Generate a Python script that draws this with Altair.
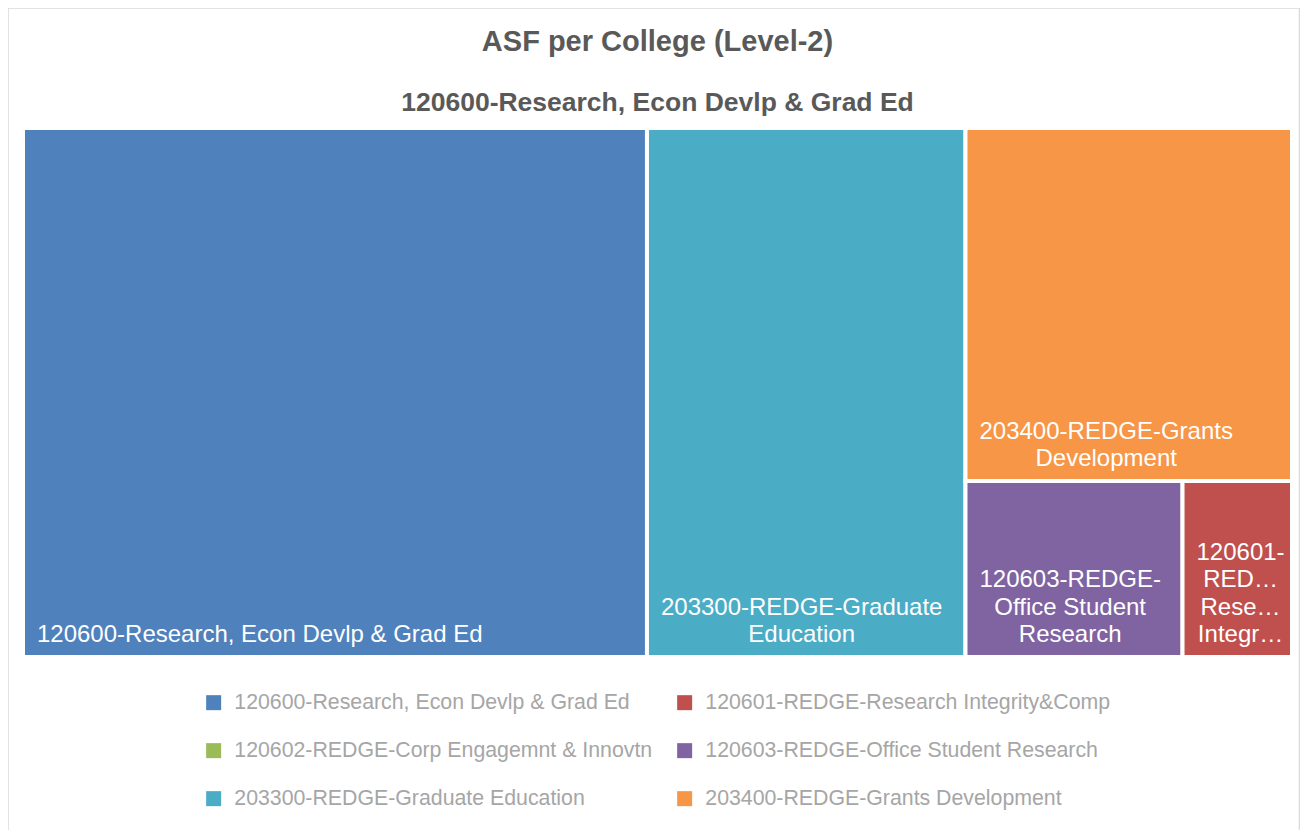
import altair as alt
import pandas as pd

# ---------------- data ----------------
names = [
    "120600-Research, Econ Devlp & Grad Ed",
    "120601-REDGE-Research Integrity&Comp",
    "120602-REDGE-Corp Engagemnt & Innovtn",
    "120603-REDGE-Office Student Research",
    "203300-REDGE-Graduate Education",
    "203400-REDGE-Grants Development",
]
asf = [49170, 2870, 0, 5690, 25100, 17170]
colors = ["#4F81BD", "#C0504D", "#9BBB59", "#8064A2", "#4BACC6", "#F79646"]
tile_lines = {
    names[0]: ["120600-Research, Econ Devlp & Grad Ed"],
    names[1]: ["120601-", "RED…", "Rese…", "Integr…"],
    names[2]: ["120602-REDGE-Corp Engagemnt & Innovtn"],
    names[3]: ["120603-REDGE-", "Office Student", "Research"],
    names[4]: ["203300-REDGE-Graduate", "Education"],
    names[5]: ["203400-REDGE-Grants", "Development"],
}
title_text = "ASF per College (Level-2)"
subtitle_text = "120600-Research, Econ Devlp & Grad Ed"

# ---------------- layout constants ----------------
W, H = 1292, 822
REGION = (15, 120, 1269, 529)  # x, y, width, height of treemap area
FS = 24
LINE_H = 27.5


def squarify(items, x, y, dx, dy):
    total = sum(v for _, v in items)
    areas = [(k, v * dx * dy / total) for k, v in items]
    rects = []

    def worst(row, w):
        s = sum(a for _, a in row)
        return max(max(w * w * a / (s * s), (s * s) / (w * w * a)) for _, a in row)

    while areas:
        w = min(dx, dy)
        row = [areas.pop(0)]
        while areas and worst(row + [areas[0]], w) <= worst(row, w):
            row.append(areas.pop(0))
        s = sum(a for _, a in row)
        if dx >= dy:
            cw = s / dy
            cy = y
            for k, a in row:
                h = a / cw
                rects.append((k, x, cy, x + cw, cy + h))
                cy += h
            x += cw
            dx -= cw
        else:
            rh = s / dx
            cx = x
            for k, a in row:
                wd = a / rh
                rects.append((k, cx, y, cx + wd, y + rh))
                cx += wd
            y += rh
            dy -= rh
    return rects


items = sorted([(n, v) for n, v in zip(names, asf) if v > 0], key=lambda t: -t[1])
rects = squarify(items, *REGION)
tiles = pd.DataFrame(rects, columns=["name", "x0", "y0", "x1", "y1"])

# approximate Arial/Liberation Sans advance widths (em/1000)
CW = {c: 556 for c in "0123456789"}
CW.update({"-": 333, " ": 278, ",": 278, "&": 667, "…": 1000,
           "A": 667, "B": 667, "C": 722, "D": 722, "E": 667, "F": 611, "G": 778,
           "I": 278, "L": 556, "O": 778, "R": 722, "S": 667,
           "a": 556, "c": 500, "d": 556, "e": 556, "f": 278, "g": 556, "h": 556,
           "i": 222, "l": 222, "m": 833, "n": 556, "o": 556, "p": 556, "r": 333,
           "s": 500, "t": 278, "u": 556, "v": 500})


def tw(s, fs):
    return sum(CW.get(c, 556) for c in s) / 1000 * fs


label_rows = []
for name, x0, y0, x1, y1 in rects:
    lines = tile_lines[name]
    bw = max(tw(l, FS) for l in lines)
    cx = x0 + 14 + bw / 2
    n = len(lines)
    for i, l in enumerate(lines):
        label_rows.append({"x": cx, "y": y1 - 15 - (n - 1 - i) * LINE_H, "text": l})
labels = pd.DataFrame(label_rows)

# legend is filled column by column: order entries so rows read like the original
legend_order = [0, 2, 4, 1, 3, 5]
legend_names = [names[i] for i in legend_order]
legend_colors = [colors[i] for i in legend_order]

xs = alt.Scale(domain=[0, W], range=[0, W])
ys = alt.Scale(domain=[0, H], range=[0, H])

rect_layer = alt.Chart(tiles).mark_rect(stroke="white", strokeWidth=4).encode(
    x=alt.X("x0:Q", scale=xs, axis=None),
    x2="x1:Q",
    y=alt.Y("y0:Q", scale=ys, axis=None),
    y2="y1:Q",
    color=alt.Color(
        "name:N",
        scale=alt.Scale(domain=legend_names, range=legend_colors),
        legend=alt.Legend(
            title=None, orient="none", legendX=195, legendY=684, columns=2,
            symbolType="square", symbolSize=225, symbolStrokeWidth=0,
            labelFontSize=21.3, labelColor="#a6a6a6", labelFont="Liberation Sans",
            labelOffset=10, rowPadding=26, columnPadding=21, labelLimit=600,
            padding=0,
        ),
    ),
)

text_layer = alt.Chart(labels).mark_text(
    align="center", baseline="alphabetic", color="white", fontSize=FS,
    font="Liberation Sans",
).encode(
    x=alt.X("x:Q", scale=xs, axis=None),
    y=alt.Y("y:Q", scale=ys, axis=None),
    text="text:N",
)

dummy = pd.DataFrame({"a": [0]})
title_layer = alt.Chart(dummy).mark_text(
    text=title_text, align="center", baseline="alphabetic", fontSize=29,
    fontWeight="bold", color="#595959", font="Liberation Sans",
).encode(x=alt.value(649.5), y=alt.value(42.5))

subtitle_layer = alt.Chart(dummy).mark_text(
    text=subtitle_text, align="center", baseline="alphabetic", fontSize=26.5,
    fontWeight="bold", color="#595959", font="Liberation Sans",
).encode(x=alt.value(649.5), y=alt.value(103))

border_layer = alt.Chart(dummy).mark_rect(
    filled=False, stroke="#d9d9d9", strokeWidth=1.5,
).encode(x=alt.value(0), x2=alt.value(W - 0.5), y=alt.value(0), y2=alt.value(H + 40))

chart = alt.layer(
    border_layer, rect_layer, text_layer, title_layer, subtitle_layer
).properties(
    width=W, height=H, padding=0, autosize=alt.AutoSizeParams(type="none"),
    background="white",
).configure_view(strokeWidth=0)

chart.save("out.html", embed_options={"renderer": "svg", "actions": False})
